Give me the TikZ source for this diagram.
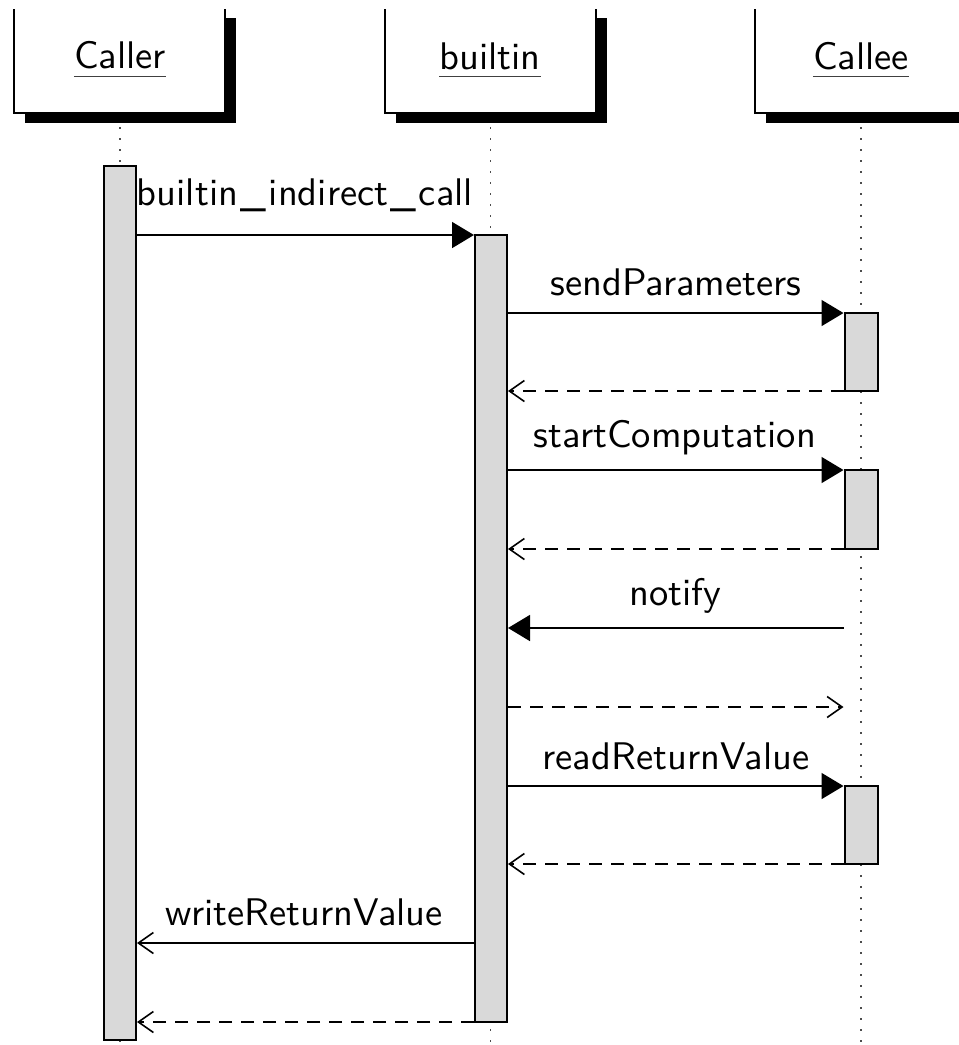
\documentclass[tikz,border=0pt]{standalone}
\usepackage{fontspec}
\setsansfont{lmsans10-regular.otf}
\usetikzlibrary{arrows.meta,shadows}
\definecolor{barfill}{gray}{0.85}
\definecolor{lifegray}{gray}{0.3}
% spaced underscore used in message names
\newcommand\usc{\kern2.5pt\_\kern2.5pt}
\tikzset{
  inst/.style={draw=black, line width=2pt, fill=white, minimum width=211pt,
    minimum height=105pt, inner sep=0pt,
    drop shadow={shadow xshift=11pt, shadow yshift=-10pt, opacity=1, fill=black}},
  lbl/.style={font=\sffamily\fontsize{38.5}{46}\selectfont, inner sep=0pt, anchor=base},
  uline/.style={line width=1.4pt, black!75},
  lifeline/.style={lifegray, line width=1.6pt, dash pattern=on 1.6pt off 9.4pt},
  actbar/.style={draw=black, line width=2pt, fill=barfill, inner sep=0pt},
  call/.style={line width=1.6pt, -{Triangle[length=22pt,width=26pt]}},
  plain/.style={line width=1.6pt, -{Straight Barb[length=15pt,width=21pt,line width=1.6pt]}},
  reply/.style={plain, dash pattern=on 13pt off 9pt}
}
\begin{document}
\begin{tikzpicture}[x=1pt,y=-1pt]
\useasboundingbox (0,0) rectangle (959,1045);
\clip (0,9.5) rectangle (959,1045);

% message levels
\coordinate (bottom) at (0,1047);
\coordinate (y1) at (0,235);
\coordinate (y2) at (0,313);
\coordinate (y3) at (0,391);
\coordinate (y4) at (0,470);
\coordinate (y5) at (0,549);
\coordinate (y6) at (0,628);
\coordinate (y7) at (0,707);
\coordinate (y8) at (0,786);
\coordinate (y9) at (0,864);
\coordinate (y10) at (0,943);
\coordinate (y11) at (0,1022);

% instances
\node[inst] (caller)  at (119.5,60.5) {};
\node[inst] (builtin) at (490,60.5) {};
\node[inst] (callee)  at (860.5,60.5) {};

\node[lbl] (callerlbl)  at (120,68.5) {Caller};
\node[lbl] (builtinlbl) at (490,69) {builtin};
\node[lbl] (calleelbl)  at (861,69) {Callee};
\foreach \n in {callerlbl,builtinlbl,calleelbl}
  \draw[uline] ([yshift=-7.7pt]\n.base west) -- ([yshift=-7.7pt]\n.base east);

% lifelines
\draw[lifeline] ([xshift=0.5pt,yshift=-13pt]caller.south) -- ([xshift=0.5pt]caller.south |- bottom);
\draw[lifeline] ([xshift=0.5pt,yshift=-13pt]builtin.south) -- ([xshift=0.5pt]builtin.south |- bottom);
\draw[lifeline] ([xshift=0.5pt,yshift=-13pt]callee.south) -- ([xshift=0.5pt]callee.south |- bottom);

% activation bars
\node[actbar, minimum width=32pt, minimum height=874pt] (cbar) at (120,603) {};
\node[actbar, minimum width=32pt, minimum height=787pt] (bbar) at (491,628.5) {};
\node[actbar, minimum width=33pt, minimum height=78pt] (ebar1) at (861,352) {};
\node[actbar, minimum width=33pt, minimum height=79pt] (ebar2) at (861,509.5) {};
\node[actbar, minimum width=33pt, minimum height=78pt] (ebar3) at (861,825) {};

% messages
\draw[call]  (cbar.east |- y1) -- (bbar.west |- y1);
\draw[call]  (bbar.east |- y2) -- (ebar1.west |- y2);
\draw[reply] (ebar1.west |- y3) -- (bbar.east |- y3);
\draw[call]  (bbar.east |- y4) -- (ebar2.west |- y4);
\draw[reply] (ebar2.west |- y5) -- (bbar.east |- y5);
\draw[call]  (ebar2.west |- y6) -- (bbar.east |- y6);
\draw[reply] (bbar.east |- y7) -- (ebar2.west |- y7);
\draw[call]  (bbar.east |- y8) -- (ebar3.west |- y8);
\draw[reply] (ebar3.west |- y9) -- (bbar.east |- y9);
\draw[plain] (bbar.west |- y10) -- (cbar.east |- y10);
\draw[reply] (bbar.west |- y11) -- (cbar.east |- y11);

% message labels
\node[lbl] (m1) at (305,205) {builtin\usc indirect\usc call};
\node[lbl] (m2) at (676,295) {sendParameters};
\node[lbl] (m3) at (675,447) {startComputation};
\node[lbl] (m4) at (675,605) {notify};
\node[lbl] (m5) at (676,769) {readReturnValue};
\node[lbl] (m6) at (304,925) {writeReturnValue};
\end{tikzpicture}
\end{document}
